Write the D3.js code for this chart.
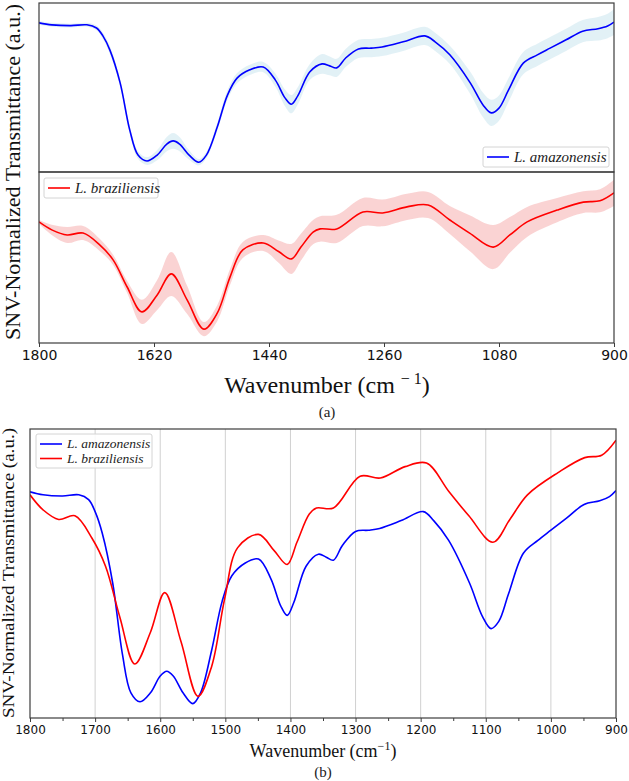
<!DOCTYPE html>
<html>
<head>
<meta charset="utf-8">
<script src="https://cdn.jsdelivr.net/npm/d3@7/dist/d3.min.js"></script>
<style>
  body { margin: 0; background: #fff; }
  svg { display: block; }
</style>
</head>
<body>
<div id="chart"></div>
<script>
// wavenumbers (cm-1) and SNV-normalized mean spectra + std
var amaWn = [1800, 1780, 1750, 1725, 1710, 1700, 1689, 1673, 1658, 1645, 1631, 1615, 1600, 1590, 1580, 1565, 1550, 1538, 1521, 1505, 1490, 1470, 1449, 1430, 1415, 1405, 1395, 1376, 1357, 1345, 1334, 1320, 1300, 1280, 1263, 1230, 1196, 1180, 1157, 1125, 1105, 1092, 1080, 1065, 1042, 1020, 1000, 975, 949, 925, 910, 900];
var amaMean = [1.47, 1.42, 1.40, 1.42, 1.34, 1.14, 0.78, -0.05, -1.24, -1.88, -2.03, -1.88, -1.60, -1.52, -1.60, -1.88, -2.06, -1.88, -1.17, -0.36, 0.07, 0.28, 0.35, 0.02, -0.43, -0.59, -0.38, 0.23, 0.43, 0.38, 0.33, 0.58, 0.81, 0.83, 0.86, 0.99, 1.14, 0.99, 0.66, -0.05, -0.61, -0.81, -0.69, -0.23, 0.45, 0.66, 0.83, 1.04, 1.26, 1.32, 1.39, 1.49];
var amaStd = [0.05, 0.05, 0.05, 0.05, 0.06, 0.08, 0.10, 0.10, 0.10, 0.10, 0.10, 0.13, 0.18, 0.20, 0.18, 0.12, 0.08, 0.08, 0.10, 0.12, 0.13, 0.13, 0.13, 0.17, 0.21, 0.23, 0.22, 0.20, 0.25, 0.24, 0.23, 0.23, 0.23, 0.23, 0.23, 0.23, 0.23, 0.23, 0.23, 0.28, 0.31, 0.33, 0.32, 0.30, 0.28, 0.28, 0.28, 0.28, 0.28, 0.30, 0.31, 0.33];

var braWn = [1800, 1780, 1756, 1731, 1705, 1684, 1662, 1639, 1615, 1593, 1568, 1542, 1521, 1501, 1481, 1449, 1425, 1405, 1390, 1371, 1360, 1334, 1293, 1262, 1224, 1191, 1157, 1126, 1089, 1063, 1036, 989, 948, 922, 900];
var braMean = [1.42, 1.17, 1.01, 1.07, 0.70, 0.23, -0.62, -1.40, -0.87, -0.21, -1.03, -1.94, -1.44, -0.31, 0.54, 0.76, 0.49, 0.26, 0.63, 1.10, 1.20, 1.20, 1.73, 1.70, 1.89, 1.95, 1.48, 1.07, 0.63, 1.01, 1.42, 1.79, 2.04, 2.08, 2.33];
var braStd = [0.06, 0.16, 0.25, 0.22, 0.19, 0.16, 0.19, 0.38, 0.47, 0.69, 0.44, 0.22, 0.25, 0.25, 0.25, 0.25, 0.35, 0.47, 0.42, 0.38, 0.40, 0.44, 0.44, 0.42, 0.41, 0.41, 0.44, 0.56, 0.69, 0.56, 0.47, 0.38, 0.34, 0.36, 0.41];

var ticksA = [1800, 1620, 1440, 1260, 1080, 900];
var ticksB = [1800, 1700, 1600, 1500, 1400, 1300, 1200, 1100, 1000, 900];
var minorB = [1750, 1650, 1550, 1450, 1350, 1250, 1150, 1050, 950];

var seriesNames = ["L. amazonensis", "L. braziliensis"];
var lineColors = ["#0000ff", "#ff0000"];
var bandColors = ["#add8e6", "#f08080"];

function rows(wn, mean, std) {
    return wn.map(function (w, i) { return { wn: w, m: mean[i], s: std[i] }; });
}
var ama = rows(amaWn, amaMean, amaStd);
var bra = rows(braWn, braMean, braStd);

var svg = d3.select("#chart").append("svg")
    .attr("width", 629)
    .attr("height", 781);

var serif = "'Liberation Serif', 'DejaVu Serif', serif";
var sans = "'DejaVu Sans', sans-serif";
var frameColor = "#3c3c3c";
var smooth = d3.curveCatmullRom.alpha(0.5);

// ---------- panel (a) ----------
var xA = d3.scaleLinear().domain([1800, 900]).range([39, 614]);
var yTop = d3.scaleLinear().domain([-2.308, 1.973]).range([172, 3]);
var yBot = d3.scaleLinear().domain([-2.375, 2.983]).range([343, 172]);

var defs = svg.append("defs");
function clip(id, x0, y0, x1, y1) {
    defs.append("clipPath").attr("id", id).append("rect")
        .attr("x", x0).attr("y", y0).attr("width", x1 - x0).attr("height", y1 - y0);
}
clip("clipTop", 39, 3, 614, 172);
clip("clipBot", 39, 172, 614, 343);

function drawSpectrum(g, data, x, y, k, withBand) {
    if (withBand) {
        g.append("path")
            .datum(data)
            .attr("fill", bandColors[k])
            .attr("fill-opacity", 0.35)
            .attr("d", d3.area()
                .curve(smooth)
                .x(function (d) { return x(d.wn); })
                .y0(function (d) { return y(d.m - d.s); })
                .y1(function (d) { return y(d.m + d.s); }));
    }
    g.append("path")
        .datum(data)
        .attr("fill", "none")
        .attr("stroke", lineColors[k])
        .attr("stroke-width", 1.6)
        .attr("d", d3.line()
            .curve(smooth)
            .x(function (d) { return x(d.wn); })
            .y(function (d) { return y(d.m); }));
}

drawSpectrum(svg.append("g").attr("clip-path", "url(#clipTop)"), ama, xA, yTop, 0, true);
drawSpectrum(svg.append("g").attr("clip-path", "url(#clipBot)"), bra, xA, yBot, 1, true);

// frames
svg.append("rect").attr("x", 39).attr("y", 3).attr("width", 575).attr("height", 169)
    .attr("fill", "none").attr("stroke", frameColor).attr("stroke-width", 1.2);
svg.append("rect").attr("x", 39).attr("y", 172).attr("width", 575).attr("height", 171)
    .attr("fill", "none").attr("stroke", frameColor).attr("stroke-width", 1.2);

var axA = svg.append("g")
    .attr("transform", "translate(0,343)")
    .call(d3.axisBottom(xA).tickValues(ticksA).tickSize(4).tickFormat(d3.format("d")));
axA.select(".domain").remove();
axA.selectAll("line").attr("stroke", frameColor);
axA.selectAll("text").attr("font-family", sans).attr("font-size", 14).attr("fill", "#111");

// legends
function legend(x0, y0, w, h, items, fs, step) {
    var g = svg.append("g");
    g.append("rect").attr("x", x0).attr("y", y0).attr("width", w).attr("height", h)
        .attr("rx", 2).attr("fill", "#fff").attr("fill-opacity", 0.85)
        .attr("stroke", "#d4d4d4").attr("stroke-width", 1);
    items.forEach(function (it, i) {
        var cy = y0 + 10 + i * step;
        g.append("line").attr("x1", x0 + 4).attr("x2", x0 + 26).attr("y1", cy).attr("y2", cy)
            .attr("stroke", lineColors[it]).attr("stroke-width", 1.6);
        g.append("text").attr("x", x0 + 31).attr("y", cy + fs * 0.33)
            .attr("font-family", serif).attr("font-style", "italic")
            .attr("font-size", fs).attr("fill", "#222")
            .text(seriesNames[it]);
    });
}
legend(483, 147, 126, 20, [0], 15, 0);
legend(44, 178, 114, 20, [1], 15, 0);

// axis labels (a)
svg.append("text")
    .attr("transform", "translate(20,172) rotate(-90)")
    .attr("text-anchor", "middle")
    .attr("font-family", serif).attr("font-size", 22).attr("fill", "#111")
    .attr("textLength", 336).attr("lengthAdjust", "spacingAndGlyphs")
    .text("SNV-Normalized Transmittance (a.u.)");

var xlabA = svg.append("text")
    .attr("x", 327).attr("y", 393)
    .attr("text-anchor", "middle")
    .attr("font-family", serif).attr("font-size", 24).attr("fill", "#111");
xlabA.append("tspan").text("Wavenumber (cm ");
xlabA.append("tspan").attr("font-size", 16).attr("dy", -9).text("\u2212 1");
xlabA.append("tspan").attr("dy", 9).text(")");

svg.append("text").attr("x", 327).attr("y", 417).attr("text-anchor", "middle")
    .attr("font-family", serif).attr("font-size", 15).attr("fill", "#222").text("(a)");

// ---------- panel (b) ----------
var xB = d3.scaleLinear().domain([1800, 900]).range([30, 616]);
var yB = d3.scaleLinear().domain([-2.3, 2.517]).range([718, 429]);

svg.append("g").selectAll("line")
    .data(ticksB.slice(1, -1))
    .enter().append("line")
    .attr("x1", function (d) { return xB(d); })
    .attr("x2", function (d) { return xB(d); })
    .attr("y1", 429).attr("y2", 718)
    .attr("stroke", "#d0d0d0").attr("stroke-width", 1);

clip("clipB", 30, 429, 616, 718);
var gB = svg.append("g").attr("clip-path", "url(#clipB)");
drawSpectrum(gB, ama, xB, yB, 0, false);
drawSpectrum(gB, bra, xB, yB, 1, false);

svg.append("rect").attr("x", 30).attr("y", 429).attr("width", 586).attr("height", 289)
    .attr("fill", "none").attr("stroke", frameColor).attr("stroke-width", 1.2);

var axB = svg.append("g")
    .attr("transform", "translate(0,718)")
    .call(d3.axisBottom(xB).tickValues(ticksB).tickSize(4).tickFormat(d3.format("d")));
axB.select(".domain").remove();
axB.selectAll("line").attr("stroke", frameColor);
axB.selectAll("text").attr("font-family", sans).attr("font-size", 12).attr("fill", "#111");

var axBm = svg.append("g")
    .attr("transform", "translate(0,718)")
    .call(d3.axisBottom(xB).tickValues(minorB).tickSize(3).tickFormat(""));
axBm.select(".domain").remove();
axBm.selectAll("line").attr("stroke", frameColor);

// legend (b)
legend(36, 434, 116, 34, [0, 1], 13.5, 14.5);

svg.append("text")
    .attr("transform", "translate(14,573) rotate(-90)")
    .attr("text-anchor", "middle")
    .attr("font-family", serif).attr("font-size", 17).attr("fill", "#111")
    .attr("textLength", 290).attr("lengthAdjust", "spacingAndGlyphs")
    .text("SNV-Normalized Transmittance (a.u.)");

var xlabB = svg.append("text")
    .attr("x", 323).attr("y", 757)
    .attr("text-anchor", "middle")
    .attr("font-family", serif).attr("font-size", 18).attr("fill", "#111");
xlabB.append("tspan").text("Wavenumber (cm");
xlabB.append("tspan").attr("font-size", 12).attr("dy", -7).text("\u22121");
xlabB.append("tspan").attr("dy", 7).text(")");

svg.append("text").attr("x", 323).attr("y", 777).attr("text-anchor", "middle")
    .attr("font-family", serif).attr("font-size", 15).attr("fill", "#222").text("(b)");
</script>
</body>
</html>
